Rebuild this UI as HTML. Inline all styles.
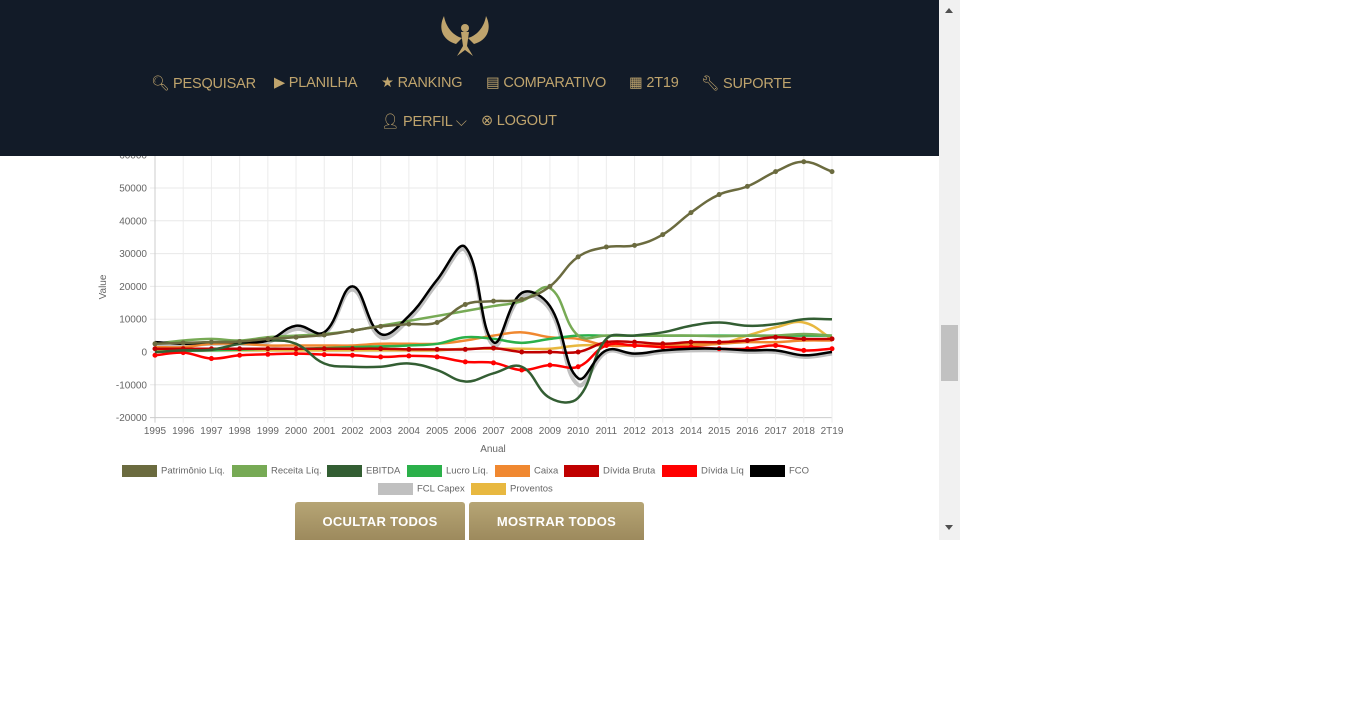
<!DOCTYPE html>
<html><head><meta charset="utf-8"><style>
body{margin:0;width:1366px;height:728px;background:#fff;font-family:"Liberation Sans",sans-serif;overflow:hidden;position:relative}
#nav{position:absolute;left:0;top:0;width:939px;height:156px;background:#121b28;z-index:2}
.ni{position:absolute;color:#bfa46d;font-size:14.5px;top:75px;white-space:nowrap;letter-spacing:-0.2px}
#sb{position:absolute;left:939px;top:0;width:21px;height:540px;background:#f1f1f1}
#thumb{position:absolute;left:941px;top:325px;width:17px;height:56px;background:#c1c1c1}
.btn{position:absolute;top:502px;height:38px;background:linear-gradient(#b6a575,#9d8a5d);color:#fff;font-weight:bold;font-size:13px;text-align:center;line-height:40px;border-radius:3px 3px 0 0;letter-spacing:.3px}
.lg{position:absolute;font-size:9.5px;color:#666;white-space:nowrap}
.lg i{display:inline-block;width:35px;height:12px;vertical-align:middle;margin-right:4px}
</style></head><body>
<div id="nav">
<svg style="position:absolute;left:436px;top:14px" width="58" height="44" viewBox="0 0 58 44"><g fill="#bfa46d"><path d="M8 2 C2 14 6 26 20 30 L26 24 C18 22 10 14 8 2Z"/><path d="M50 2 C56 14 52 26 38 30 L32 24 C40 22 48 14 50 2Z"/><circle cx="29" cy="14" r="4"/><path d="M25 18 h8 l-2 14 l6 10 l-8-6 l-8 6 l6-10Z"/></g></svg>
<div class="ni" style="left:151px">🔍︎ PESQUISAR</div>
<div class="ni" style="left:274px">▶ PLANILHA</div>
<div class="ni" style="left:381px">★ RANKING</div>
<div class="ni" style="left:486px">▤ COMPARATIVO</div>
<div class="ni" style="left:629px">▦ 2T19</div>
<div class="ni" style="left:701px">🔧︎ SUPORTE</div>
<div class="ni" style="left:381px;top:113px">👤︎ PERFIL ⌵</div>
<div class="ni" style="left:481px;top:113px">⊗ LOGOUT</div>
</div>
<div id="sb"><div style="position:absolute;left:6px;top:8px;border:4px solid transparent;border-bottom:5px solid #505050;border-top:0"></div><div style="position:absolute;left:6px;top:525px;border:4px solid transparent;border-top:5px solid #505050;border-bottom:0"></div></div>
<div id="thumb"></div>
<svg id="chart" width="939" height="460" style="position:absolute;left:0;top:0"></svg>
<div id="legend"></div>
<div class="btn" style="left:295px;width:170px">OCULTAR TODOS</div>
<div class="btn" style="left:469px;width:175px">MOSTRAR TODOS</div>
<script>
const categories=["1995","1996","1997","1998","1999","2000","2001","2002","2003","2004","2005","2006","2007","2008","2009","2010","2011","2012","2013","2014","2015","2016","2017","2018","2T19"];
const yTicks=[-20000,-10000,0,10000,20000,30000,40000,50000,60000];
const seriesNames=["Patrimônio Líq.","Receita Líq.","EBITDA","Lucro Líq.","Caixa","Dívida Bruta","Dívida Líq","FCO","FCL Capex","Proventos"];
const seriesColors=["#6b6b3f","#77aa55","#335e33","#2bb04a","#f08830","#c00000","#ff0000","#000000","#c0c0c0","#e8b840"];
const patrimonio=[2500,2800,3000,3200,4000,4500,5200,6500,7800,8500,9000,14500,15500,16000,20000,29000,32000,32500,35800,42500,48000,50500,55000,58000,55000];
const receita=[2500,3500,4000,3500,4500,5000,5500,6500,8000,9500,11000,12500,14000,15500,19500,5000,5000,5000,5000,5000,4800,5000,5000,5500,5000];
const ebitda=[0,500,700,2500,3500,2500,-3500,-4500,-4500,-3500,-5500,-9000,-6500,-4500,-14000,-14000,4000,5000,6000,8000,9000,8000,8500,10000,10000];
const lucro=[0,300,500,700,1000,1000,1200,1500,1700,2000,2500,4500,4000,2800,4000,5000,5000,5000,5000,5000,5000,5000,5000,5000,5000];
const caixa=[1500,1500,2500,2500,2000,2000,2000,2000,2500,2500,2500,3500,5000,6000,4500,4000,2000,2000,2000,2000,2500,3000,3000,3500,3500];
const dividaBruta=[1000,1000,1000,1000,1000,1000,1000,1000,1000,800,800,800,1200,0,0,0,3000,3000,2500,3000,3000,3500,4500,4000,4000];
const dividaLiq=[-1000,-200,-2000,-1000,-700,-500,-800,-1000,-1500,-1200,-1500,-3000,-3300,-5500,-4000,-4500,2000,2000,1500,1500,1000,1000,2000,500,1000];
const fco=[3000,2500,3000,3000,3500,8000,6000,20000,5500,11000,22000,32000,3000,18000,14000,-8000,500,-500,500,1000,1000,500,500,-1000,0];
const fclCapex=[2500,2000,2500,2500,3000,7000,5500,19000,4500,10000,21000,31000,2000,17000,13000,-10000,0,-1000,0,500,500,0,0,-1500,-500];
const proventos=[500,500,500,500,500,500,500,500,500,500,500,1000,1000,1000,1000,2000,2000,2000,2000,2500,2500,5000,7500,9000,4000];
const allSeries=[patrimonio,receita,ebitda,lucro,caixa,dividaBruta,dividaLiq,fco,fclCapex,proventos];
const X0=155,X1=832,Y0=352,PX=3.28/1000;
const xs=i=>X0+i*(X1-X0)/(categories.length-1);
const ys=v=>Y0-v*PX;
const svg=document.getElementById('chart'),NS="http://www.w3.org/2000/svg";
function mk(t,a){const e=document.createElementNS(NS,t);for(const k in a)e.setAttribute(k,a[k]);svg.appendChild(e);return e;}
yTicks.forEach(v=>{const l=mk('line',{x1:X0-5,x2:X1,y1:ys(v),y2:ys(v),stroke:v===-20000?'#ccc':'#e8e8e8'});

const t=mk('text',{x:X0-8,y:ys(v)+3.5,'text-anchor':'end','font-size':10,fill:'#666'});t.textContent=v;
});
categories.forEach((c,i)=>{const l=mk('line',{x1:xs(i),x2:xs(i),y1:ys(60000),y2:ys(-20000)+5,stroke:i===0?'#ccc':'#ececec'});

const t=mk('text',{x:xs(i),y:434,'text-anchor':'middle','font-size':10,fill:'#666'});t.textContent=c;
});
let t=mk('text',{x:493,y:452,'text-anchor':'middle','font-size':10,fill:'#666'});t.textContent='Anual';

t=mk('text',{x:106,y:287,'text-anchor':'middle','font-size':10,fill:'#666',transform:'rotate(-90 106 287)'});t.textContent='Value';

function pathFor(d){const p=d.map((v,i)=>[xs(i),ys(v)]);const T=0.4;let s=`M${p[0][0]},${p[0][1]}`;
const cps=p.map((c,i)=>{const pr=p[Math.max(0,i-1)],nx=p[Math.min(p.length-1,i+1)];
const d01=Math.hypot(c[0]-pr[0],c[1]-pr[1]),d12=Math.hypot(nx[0]-c[0],nx[1]-c[1]);
let fa=d01/(d01+d12||1),fb=d12/(d01+d12||1);fa=T*fa;fb=T*fb;
return{p:[c[0]-fa*(nx[0]-pr[0]),c[1]-fa*(nx[1]-pr[1])],n:[c[0]+fb*(nx[0]-pr[0]),c[1]+fb*(nx[1]-pr[1])]};});
for(let i=1;i<p.length;i++)s+=` C${cps[i-1].n[0]},${cps[i-1].n[1]} ${cps[i].p[0]},${cps[i].p[1]} ${p[i][0]},${p[i][1]}`;return s;}
const order=[8,9,4,3,1,5,6,2,7,0];
order.forEach(k=>{const d=allSeries[k];
const pa=mk('path',{d:pathFor(d),fill:'none',stroke:seriesColors[k],'stroke-width':k===8?4:2.5});

if([0,5,6].includes(k))d.forEach((v,i)=>{const c=mk('circle',{cx:xs(i),cy:ys(v),r:2.5,fill:seriesColors[k]});
});});
const lgPos=[[122,465],[232,465],[327,465],[407,465],[495,465],[564,465],[662,465],[750,465],[378,483],[471,483]];
const lg=document.getElementById('legend');
seriesNames.forEach((n,k)=>{const d=document.createElement('div');d.className='lg';
d.style.left=lgPos[k][0]+'px';d.style.top=lgPos[k][1]+'px';
d.innerHTML='<i style="background:'+seriesColors[k]+'"></i>'+n;


lg.appendChild(d);});
</script>
</body></html>
